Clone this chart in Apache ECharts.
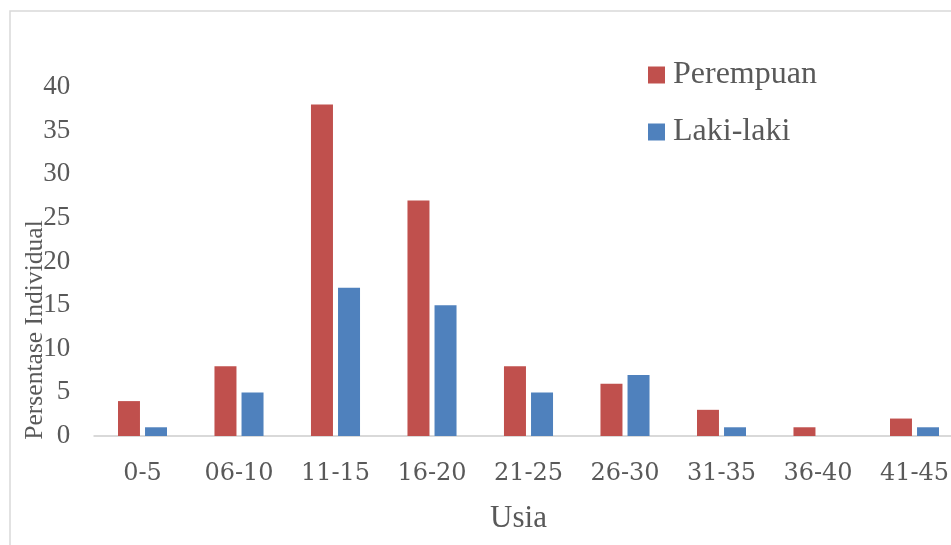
<!DOCTYPE html>
<html>
<head>
<meta charset="utf-8">
<script src="https://cdn.jsdelivr.net/npm/echarts@6/dist/echarts.min.js"></script>
<style>html,body{margin:0;padding:0;background:#fff;}#c{width:951px;height:545px;}</style>
</head>
<body>
<div id="c"></div>
<script>
const categories = ['0-5','06-10','11-15','16-20','21-25','26-30','31-35','36-40','41-45'];
const perempuan = [4, 8, 38, 27, 8, 6, 3, 1, 2];
const lakiLaki = [1, 5, 17, 15, 5, 7, 1, 0, 1];
const yTicks = [0, 5, 10, 15, 20, 25, 30, 35, 40];

const chart = echarts.init(document.getElementById('c'), null, {renderer: 'canvas'});
const serif = '"Liberation Serif", "Times New Roman", serif';
chart.setOption({
  animation: false,
  backgroundColor: '#ffffff',
  grid: {left: 94.25, width: 868.5, top: 87, height: 349, containLabel: false, outerBoundsMode: 'none'},
  legend: {
    orient: 'vertical',
    left: 643,
    top: 54,
    icon: 'rect',
    itemWidth: 17,
    itemHeight: 17,
    itemGap: 25,
    textStyle: {fontFamily: serif, fontSize: 32, color: '#595959', padding: [0, 0, 0, 3]},
    data: ['Perempuan', 'Laki-laki']
  },
  xAxis: {
    type: 'category',
    data: categories,
    name: 'Usia',
    nameLocation: 'middle',
    nameGap: 67,
    nameTextStyle: {fontFamily: serif, fontSize: 31, color: '#595959', padding: [0, 20, 0, 0]},
    axisLine: {lineStyle: {color: '#d9d9d9', width: 2}},
    axisTick: {show: false},
    axisLabel: {fontFamily: '"DejaVu Serif", serif', fontSize: 24, color: '#595959', margin: 26, interval: 0}
  },
  yAxis: {
    type: 'value',
    min: yTicks[0],
    max: yTicks[yTicks.length - 1],
    interval: 5,
    offset: 16,
    axisLine: {show: false},
    axisTick: {show: false},
    splitLine: {show: false},
    axisLabel: {fontFamily: serif, fontSize: 27, color: '#595959', margin: 8, align: 'right'}
  },
  series: [
    {name: 'Perempuan', type: 'bar', data: perempuan, barWidth: 22, barGap: '23%', itemStyle: {color: '#C0504D'}},
    {name: 'Laki-laki', type: 'bar', data: lakiLaki, barWidth: 22, barGap: '23%', itemStyle: {color: '#4F81BD'}}
  ],
  graphic: [
    {type: 'rect', shape: {x: 10, y: 11, width: 1000, height: 600}, style: {fill: 'none', stroke: '#d9d9d9', lineWidth: 1.5}, silent: true},
    {type: 'text', x: 35, y: 330, rotation: Math.PI / 2,
     style: {text: 'Persentase Individual', fontFamily: serif, fontSize: 25.6, fill: '#595959', textAlign: 'center', textVerticalAlign: 'middle'}}
  ]
});
</script>
</body>
</html>
